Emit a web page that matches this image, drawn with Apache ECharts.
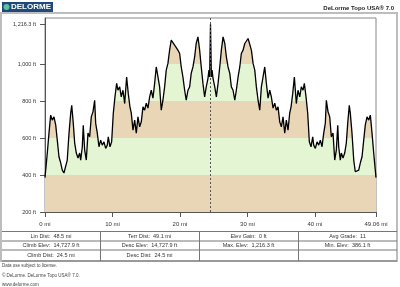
<!DOCTYPE html>
<html>
<head>
<meta charset="utf-8">
<script src="https://cdn.jsdelivr.net/npm/echarts@6/dist/echarts.min.js"></script>
<style>
html,body{margin:0;padding:0;background:#fff;}
#c{width:400px;height:287px;}
</style>
</head>
<body>
<div id="c"></div>
<script>
// Distance along route (mi)
const miles = [
0,0.34,0.59,0.84,1.08,1.33,1.59,1.82,2.07,2.33,2.56,2.81,3.07,3.30,3.56,3.81,3.96,4.19,4.40,4.64,
4.89,5.14,5.29,5.53,5.67,5.88,6.12,6.37,6.62,6.86,7.11,7.36,7.51,7.75,8.00,8.25,8.49,8.74,8.99,9.23,
9.38,9.63,9.88,10.12,10.37,10.62,10.81,11.07,11.30,11.56,11.81,12.10,12.34,12.59,12.79,13.04,13.29,13.53,13.78,14.03,
14.27,14.52,14.77,15.01,15.26,15.51,15.75,16.00,16.25,16.49,16.74,16.99,17.23,17.48,17.73,17.97,18.22,18.47,18.71,18.96,
19.21,19.45,19.70,19.96,20.19,20.44,20.70,20.93,21.19,21.44,21.67,21.93,22.18,22.41,22.67,22.92,23.16,23.41,23.66,23.90,
24.15,24.30,24.40,24.53,
24.66,24.76,24.91,25.16,25.40,25.65,25.90,26.14,26.39,26.65,26.88,27.13,27.39,27.62,27.87,28.13,28.36,28.62,28.87,29.10,
29.36,29.61,29.85,30.10,30.35,30.59,30.84,31.09,31.33,31.58,31.83,32.07,32.32,32.57,32.81,33.06,33.31,33.55,33.80,34.05,
34.29,34.54,34.79,35.03,35.28,35.53,35.77,36.02,36.27,36.47,36.72,36.96,37.25,37.50,37.76,37.99,38.25,38.44,38.69,38.94,
39.18,39.43,39.68,39.83,40.07,40.32,40.57,40.81,41.06,41.31,41.55,41.70,41.95,42.20,42.44,42.69,42.94,43.18,43.39,43.53,
43.77,43.92,44.17,44.42,44.66,44.87,45.10,45.25,45.50,45.76,45.99,46.25,46.50,46.73,46.99,47.24,47.47,47.73,47.98,48.22,
48.47,48.72,49.06
];
// Elevation (ft)
const elevation = [
386.1,519,627,724,697,715,670,589,499,465,427,411,418,481,627,735,778,681,573,519,
492,519,481,553,670,535,481,627,607,715,742,805,681,627,553,589,562,580,544,562,
607,553,580,733,823,896,859,877,823,859,787,931,842,769,735,643,697,627,715,661,
688,769,751,789,762,823,859,816,896,985,931,877,751,805,877,968,1004,1076,1130,1139,
1103,1112,1076,1058,985,931,859,805,859,877,950,985,1040,1112,1148,1076,985,896,823,877,
922,968,931,1216.3,
931,968,922,877,823,896,985,1076,1148,1112,1040,985,950,877,859,805,859,931,985,1058,
1076,1112,1103,1139,1130,1076,1004,968,877,805,751,877,931,985,896,816,859,823,762,789,
751,769,688,661,715,627,697,643,735,769,842,931,787,859,823,877,859,896,823,733,
580,553,607,562,544,580,562,589,553,627,681,805,742,715,607,627,481,535,670,553,
481,519,492,519,573,681,778,735,627,481,418,411,427,465,499,589,670,715,697,724,
627,519,386.1
];
const xTickValues = [0, 10, 20, 30, 40, 49.06];
const xTickLabels = ['0 mi', '10 mi', '20 mi', '30 mi', '40 mi', '49.06 mi'];
const yTickValues = [200, 400, 600, 800, 1000, 1216.3];
const yTickLabels = ['200 ft', '400 ft', '600 ft', '800 ft', '1,000 ft', '1,216.3 ft'];
const bandEdges = [200, 400, 600, 800, 1000, 1300];
const midpointMile = 24.53;
const statsRows = [
  ['Lin Dist:  48.5 mi', 'Terr Dist:  49.1 mi', 'Elev Gain:  0 ft', 'Avg Grade:  11'],
  ['Climb Elev:  14,727.9 ft', 'Desc Elev:  14,727.9 ft', 'Max. Elev:  1,216.3 ft', 'Min. Elev:  386.1 ft'],
  ['Climb Dist:  24.5 mi', 'Desc Dist:  24.5 mi', '', '']
];
const footerLines = ['Data use subject to license.', '\u00A9 DeLorme. DeLorme Topo USA\u00AE 7.0.', 'www.delorme.com'];

const TAN = '#e8d6b7', GREEN = '#e4f5d3';
const FONT = '"Liberation Sans", Arial, sans-serif';
const points = miles.map((m, i) => [m, elevation[i]]);

const pieces = [];
for (let i = 0; i < bandEdges.length - 1; i++) {
  pieces.push({ gte: bandEdges[i], lt: bandEdges[i + 1], color: i % 2 === 0 ? TAN : GREEN });
}

// graphic: frame, logo, title, table, footer
const graphics = [];
graphics.push({ type: 'rect', shape: { x: 1, y: 13, width: 396, height: 248 }, style: { fill: 'none', stroke: '#bdbdbd', lineWidth: 2 }, z: 1 });
graphics.push({ type: 'rect', shape: { x: 2, y: 2, width: 51, height: 10 }, style: { fill: '#1d4a78' }, z: 5 });
graphics.push({ type: 'circle', shape: { cx: 6.5, cy: 7, r: 3 }, style: { fill: '#5fc0a0' }, z: 6 });
graphics.push({ type: 'text', x: 11, y: 7, style: { text: 'DELORME', fill: '#ffffff', font: 'bold 8px ' + FONT, verticalAlign: 'middle', align: 'left' }, z: 6 });
graphics.push({ type: 'text', x: 394, y: 8, style: { text: 'DeLorme Topo USA\u00AE 7.0', fill: '#222', font: 'bold 6px ' + FONT, verticalAlign: 'middle', align: 'right' }, z: 6 });

const rowLines = [231.5, 241, 250, 261];
const colLines = [2, 100, 199, 298, 397];
rowLines.forEach(y => graphics.push({ type: 'line', shape: { x1: 2, y1: y, x2: 397, y2: y }, style: { stroke: '#777', lineWidth: 1 }, z: 3 }));
colLines.slice(1, 4).forEach(x => graphics.push({ type: 'line', shape: { x1: x + 0.5, y1: 231.5, x2: x + 0.5, y2: 261 }, style: { stroke: '#777', lineWidth: 1 }, z: 3 }));
const rowCenters = [236.5, 245.5, 255.7];
statsRows.forEach((row, r) => row.forEach((txt, c) => {
  if (!txt) return;
  graphics.push({ type: 'text', x: (colLines[c] + colLines[c + 1]) / 2, y: rowCenters[r],
    style: { text: txt, fill: '#333', font: '5.5px ' + FONT, align: 'center', verticalAlign: 'middle' }, z: 4 });
}));
const footerY = [266, 275.5, 285];
footerLines.forEach((t, i) => graphics.push({ type: 'text', x: 2, y: footerY[i],
  style: { text: t, fill: '#444', font: '4.5px ' + FONT, align: 'left', verticalAlign: 'middle' }, z: 4 }));

const chart = echarts.init(document.getElementById('c'), null, { renderer: 'canvas' });
chart.setOption({
  animation: false,
  grid: { left: 45, right: 24, top: 18, bottom: 75, show: true, borderColor: '#888', borderWidth: 1, backgroundColor: 'transparent' },
  xAxis: {
    type: 'value', min: 0, max: 49.06,
    axisLine: { show: true, lineStyle: { color: '#555', width: 1 } },
    axisTick: { show: true, length: 5, customValues: xTickValues, lineStyle: { color: '#555' } },
    axisLabel: { customValues: xTickValues, margin: 9, color: '#333', fontSize: 6, fontFamily: FONT,
      formatter: v => { const i = xTickValues.indexOf(v); return i >= 0 ? xTickLabels[i] : ''; } },
    splitLine: { show: false }
  },
  yAxis: {
    type: 'value', min: 200, max: 1250,
    axisLine: { show: true, lineStyle: { color: '#555', width: 1 } },
    axisTick: { show: true, length: 5, customValues: yTickValues, lineStyle: { color: '#555' } },
    axisLabel: { customValues: yTickValues, margin: 9, color: '#333', fontSize: 5.5, fontFamily: FONT,
      formatter: v => { const i = yTickValues.indexOf(v); return i >= 0 ? yTickLabels[i] : ''; } },
    splitLine: { show: false }
  },
  visualMap: { show: false, type: 'piecewise', seriesIndex: 0, dimension: 1, pieces: pieces },
  graphic: graphics,
  series: [
    {
      type: 'line', data: points, symbol: 'none', silent: true,
      lineStyle: { width: 0, opacity: 0 },
      areaStyle: { opacity: 1, origin: 'start' }, z: 1
    },
    {
      type: 'line', data: points, symbol: 'none', silent: true,
      lineStyle: { color: '#000', width: 1.3 },
      itemStyle: { color: '#000' }, z: 3,
      markLine: {
        silent: true, symbol: 'none', label: { show: false },
        lineStyle: { color: '#555', type: [2, 2], width: 1 },
        data: [{ xAxis: midpointMile }]
      }
    }
  ]
});
</script>
</body>
</html>
